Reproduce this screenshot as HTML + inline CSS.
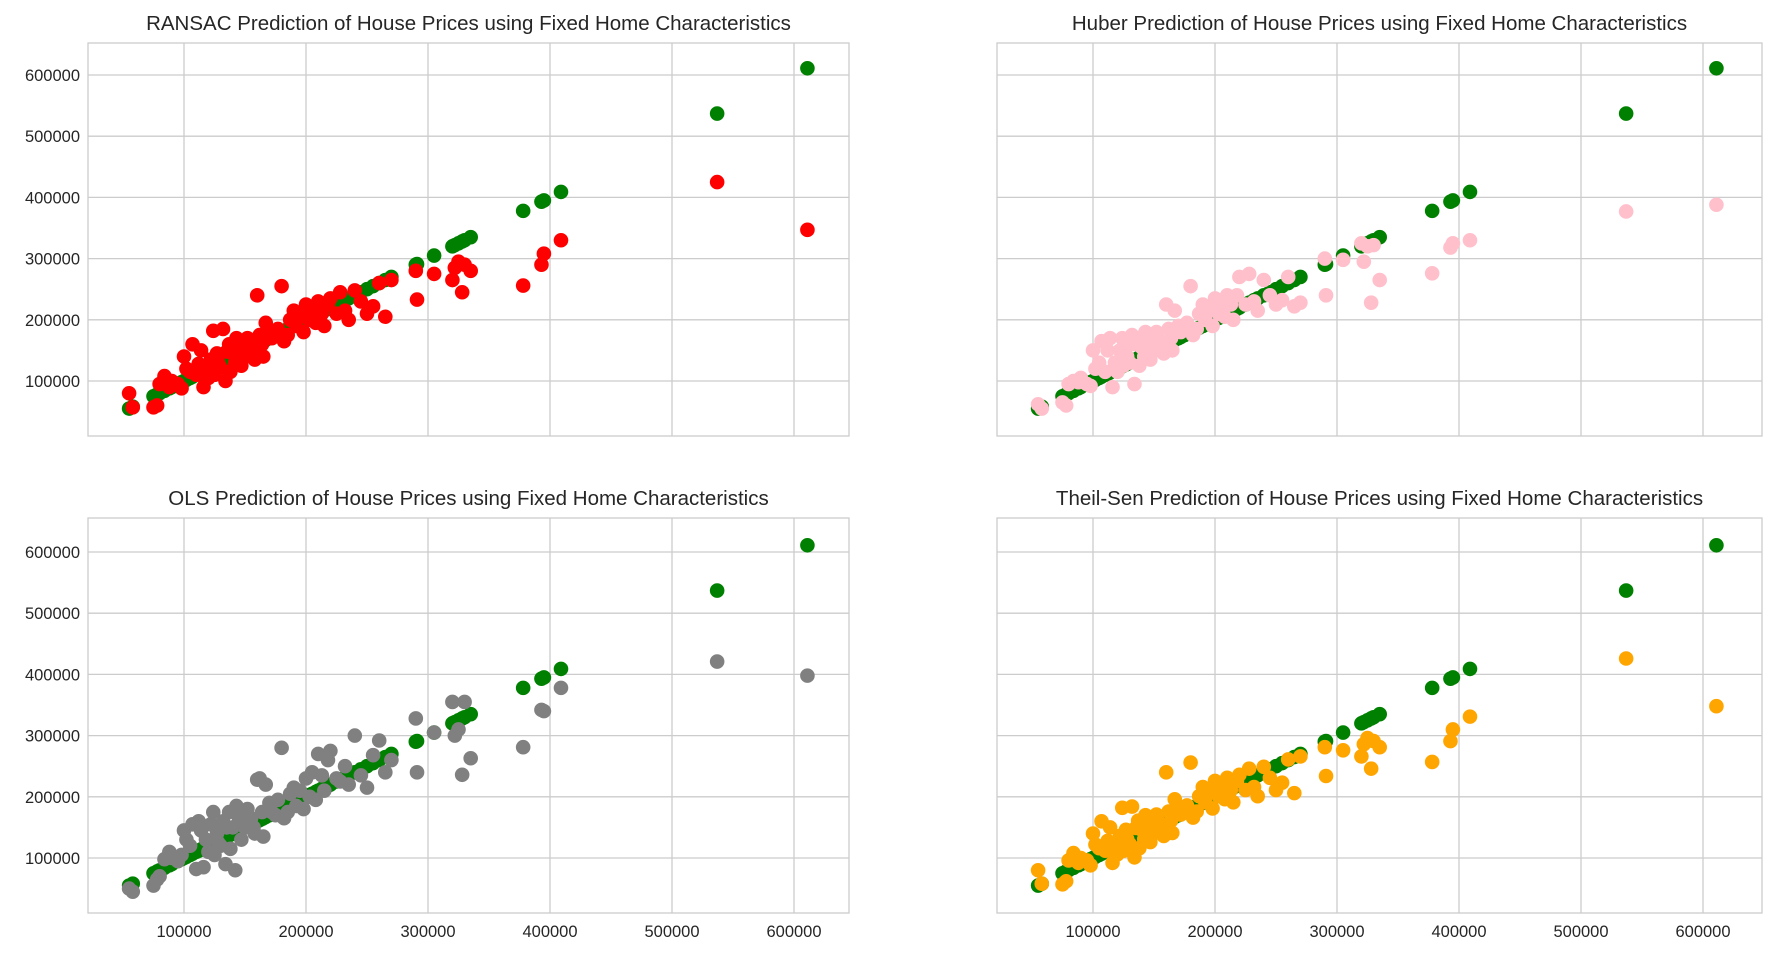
<!DOCTYPE html>
<html><head><meta charset="utf-8"><style>
body{margin:0;background:#fff;}
svg{display:block;font-family:"Liberation Sans","DejaVu Sans",sans-serif;}
</style></head><body>
<svg id="fig" width="1776" height="954" viewBox="0 0 1776 954"></svg>
<script>
const actual=[55000,58000,75000,78000,80000,84000,88000,90000,95000,98000,
100000,102000,105000,107000,110000,112000,114000,116000,118000,120000,
122000,124000,125000,127000,128000,130000,132000,134000,135000,137000,
138000,140000,142000,143000,145000,147000,148000,150000,152000,153000,
155000,157000,158000,160000,162000,164000,165000,167000,170000,172000,
175000,177000,180000,182000,185000,187000,190000,192000,195000,198000,
200000,203000,205000,208000,210000,213000,215000,218000,220000,225000,
228000,232000,235000,240000,245000,250000,255000,260000,265000,270000,
290000,291000,305000,320000,322000,325000,328000,330000,335000,378000,
393000,395000,409000,537000,611000];
const ransacPred=[80000,57000,57000,60000,95000,108000,90000,100000,95000,88000,
140000,120000,115000,160000,110000,128000,150000,90000,120000,105000,
135000,182000,110000,145000,130000,122000,185000,100000,148000,160000,
115000,145000,130000,170000,150000,125000,165000,140000,170000,160000,
155000,148000,135000,240000,175000,160000,140000,195000,180000,170000,
175000,185000,255000,165000,175000,200000,215000,190000,205000,180000,
225000,200000,215000,195000,230000,210000,190000,225000,235000,210000,
245000,215000,200000,248000,230000,210000,222000,260000,205000,265000,
280000,233000,275000,265000,285000,295000,245000,290000,280000,256000,
290000,308000,330000,425000,347000];
const huberPred=[62000,55000,65000,60000,95000,100000,98000,105000,95000,92000,
150000,120000,130000,165000,115000,150000,170000,90000,130000,115000,
150000,170000,125000,155000,140000,130000,175000,95000,160000,170000,
125000,155000,140000,180000,160000,135000,175000,150000,180000,170000,
160000,155000,145000,225000,185000,170000,150000,215000,190000,180000,
185000,195000,255000,175000,185000,210000,225000,200000,215000,190000,
235000,210000,225000,205000,240000,225000,200000,240000,270000,225000,
275000,230000,215000,265000,240000,225000,232000,270000,222000,228000,
300000,240000,298000,325000,295000,320000,228000,322000,265000,276000,
318000,325000,330000,377000,388000];
const olsPred=[50000,45000,55000,65000,70000,98000,110000,100000,95000,105000,
145000,130000,120000,155000,82000,160000,145000,85000,130000,110000,
155000,175000,105000,140000,125000,120000,160000,90000,150000,175000,
115000,150000,80000,185000,160000,130000,175000,150000,180000,165000,
165000,150000,140000,228000,230000,175000,135000,220000,190000,175000,
170000,195000,280000,165000,175000,205000,215000,185000,210000,180000,
230000,200000,240000,195000,270000,235000,210000,260000,275000,230000,
225000,250000,220000,300000,235000,215000,268000,292000,240000,260000,
328000,240000,305000,355000,300000,310000,236000,355000,263000,281000,
342000,340000,378000,421000,398000];
const theilPred=[80000,58000,57000,62000,96000,108000,92000,100000,96000,88000,
140000,122000,116000,160000,112000,128000,150000,92000,121000,106000,
136000,182000,112000,146000,131000,123000,184000,101000,149000,161000,
116000,146000,131000,170000,151000,126000,166000,141000,171000,161000,
156000,149000,136000,240000,176000,161000,141000,196000,181000,171000,
176000,186000,256000,166000,176000,201000,216000,191000,206000,181000,
226000,201000,216000,196000,231000,211000,191000,226000,236000,211000,
246000,216000,201000,249000,231000,211000,223000,261000,206000,266000,
281000,234000,276000,266000,286000,296000,246000,291000,281000,257000,
291000,310000,331000,426000,348000];
const xTicks=[100000,200000,300000,400000,500000,600000];
const yTicks=[100000,200000,300000,400000,500000,600000];
const xTickLabels=["100000","200000","300000","400000","500000","600000"];
const yTickLabels=["100000","200000","300000","400000","500000","600000"];

const NS="http://www.w3.org/2000/svg";
const svg=document.getElementById('fig');
function mk(tag,attrs,parent){const e=document.createElementNS(NS,tag);for(const k in attrs)e.setAttribute(k,attrs[k]);(parent||svg).appendChild(e);return e;}
const panels=[
 {title:"RANSAC Prediction of House Prices using Fixed Home Characteristics",pred:ransacPred,color:"#ff0000",L:88,R:849,T:43,B:436,xl:false,yl:true,name:"ransac"},
 {title:"Huber Prediction of House Prices using Fixed Home Characteristics",pred:huberPred,color:"#ffc0cb",L:997,R:1762,T:43,B:436,xl:false,yl:false,name:"huber"},
 {title:"OLS Prediction of House Prices using Fixed Home Characteristics",pred:olsPred,color:"#808080",L:88,R:849,T:518,B:913,xl:true,yl:true,name:"ols"},
 {title:"Theil-Sen Prediction of House Prices using Fixed Home Characteristics",pred:theilPred,color:"#ffa500",L:997,R:1762,T:518,B:913,xl:true,yl:false,name:"theil-sen"}
];
panels.forEach(p=>{
  const g=mk('g',{});
  
  
  const x0=p.L-26; // pixel of value 0
  const xs=v=>x0+v*122/100000;
  const y0=p.B+6.2;
  const ys=v=>y0-v*61.2/100000;
  const clipId='clip-'+p.name;
  const cp=mk('clipPath',{id:clipId},g);mk('rect',{x:p.L,y:p.T,width:p.R-p.L,height:p.B-p.T},cp);
  xTicks.forEach((t,i)=>{
    const l=mk('line',{x1:xs(t),x2:xs(t),y1:p.T,y2:p.B,stroke:"#cccccc","stroke-width":1.3},g);
    
    
    if(p.xl){const tx=mk('text',{x:xs(t),y:p.B+24,"text-anchor":"middle","font-size":"16.5",fill:"#262626"},g);tx.textContent=xTickLabels[i];
      
      }
  });
  yTicks.forEach((t,i)=>{
    const l=mk('line',{x1:p.L,x2:p.R,y1:ys(t),y2:ys(t),stroke:"#cccccc","stroke-width":1.3},g);
    
    
    if(p.yl){const tx=mk('text',{x:p.L-8,y:ys(t)+6,"text-anchor":"end","font-size":"16.5",fill:"#262626"},g);tx.textContent=yTickLabels[i];
      
      }
  });
  const pts=mk('g',{"clip-path":"url(#"+clipId+")"},g);
  
  
  actual.forEach(a=>{const c=mk('circle',{cx:xs(a),cy:ys(a),r:7.3,fill:"#008000"},pts);
    
    });
  actual.forEach((a,i)=>{const c=mk('circle',{cx:xs(a),cy:ys(p.pred[i]),r:7.3,fill:p.color},pts);
    
    });
  const fr=mk('rect',{x:p.L,y:p.T,width:p.R-p.L,height:p.B-p.T,fill:"none",stroke:"#cccccc","stroke-width":1.3},g);
  
  
  const tt=mk('text',{x:(p.L+p.R)/2,y:p.T-13,"text-anchor":"middle","font-size":"20.5",fill:"#262626"},g);
  tt.textContent=p.title;
  
  
});
</script>
</body></html>
